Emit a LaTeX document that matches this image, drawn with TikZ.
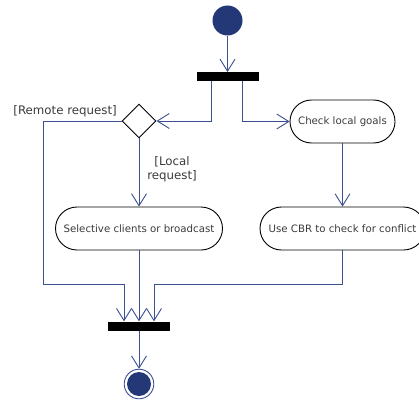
\documentclass[tikz,border=0pt]{standalone}
\usepackage{fontspec}
\setmainfont{DejaVu Sans}
\usetikzlibrary{arrows.meta,shapes.misc,shapes.geometric}
\definecolor{flowblue}{HTML}{3B4F91}
\definecolor{navy}{HTML}{243878}
\definecolor{txt}{HTML}{3A3A3A}
\tikzset{
  flow/.style={draw=flowblue, line width=0.9pt,
    -{Straight Barb[length=12pt,width=15pt,line width=0.9pt]}},
  link/.style={draw=flowblue, line width=0.9pt},
  action/.style={rounded rectangle, draw=black, line width=0.9pt,
    minimum height=43pt, inner sep=0pt, text=txt,
    font=\fontsize{10.2}{12}\selectfont},
  bar/.style={rectangle, fill=black, inner sep=0pt,
    minimum width=62pt, minimum height=9pt},
  choice/.style={diamond, draw=black, line width=0.9pt, inner sep=0pt,
    minimum width=34pt, minimum height=34pt, aspect=1},
  guard/.style={text=txt, inner sep=0pt, font=\fontsize{11.8}{14.5}\selectfont},
}
\begin{document}
\begin{tikzpicture}[x=1pt,y=-1pt]
\useasboundingbox (0,0) rectangle (419,401);

% nodes
\node[circle, fill=navy, minimum size=30pt, inner sep=0pt] (start) at (227.5,20.5) {};
\node[bar] (fork) at (227.5,76.7) {};
\node[choice] (dec) at (139,121) {};
\node[action, minimum width=105pt] (check) at (342.5,121.5) {Check local goals};
\node[action, minimum width=167pt] (sel) at (139,228.5) {Selective clients or broadcast};
\node[action, minimum width=165pt] (cbr) at (342.5,228.5) {Use CBR to check for conflict};
\node[bar] (join) at (139,326) {};
\node[circle, draw=flowblue, line width=0.9pt, minimum size=29.6pt, inner sep=0pt] (end) at (139,384) {};
\fill[navy] (end.center) circle (12pt);

% guard labels
\node[guard, anchor=east] (remote) at (117,111) {[Remote request]};
\node[guard, align=center] (local) at (172,169) {[Local\\request]};

% bend points
\coordinate (lcorner) at (43,284);
\coordinate (rcorner) at (342.5,284);

% connectors
\draw[flow] (start) -- (fork.north);
\draw[flow] ([xshift=-15.8pt]fork.south) |- (dec.east);
\draw[flow] ([xshift=15.2pt]fork.south) |- (check.west);
\draw[flow] (dec.south) -- (sel.north);
\draw[flow] (check.south) -- (cbr.north);
\draw[flow] (dec.west) -| (lcorner) -| ([xshift=-15pt]join.north);
\draw[flow] (sel.south) -- (join.north);
\draw[flow] (cbr.south) -- (rcorner) -| ([xshift=15pt]join.north);
\draw[flow] (join.south) -- (end.north);
\end{tikzpicture}
\end{document}
